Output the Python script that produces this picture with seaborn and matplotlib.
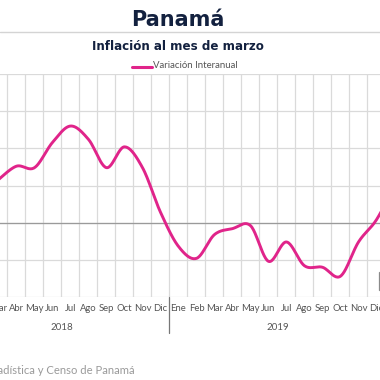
import numpy as np
import matplotlib
matplotlib.use("Agg")
import matplotlib.pyplot as plt
from matplotlib.lines import Line2D
from matplotlib.patches import Rectangle
import seaborn as sns

# monthly categories (Ene 2018 .. Ene 2020)
months = ["Ene", "Feb", "Mar", "Abr", "May", "Jun", "Jul", "Ago", "Sep", "Oct", "Nov", "Dic"] * 2 + ["Ene"]
years = [2018] * 12 + [2019] * 12 + [2020]
shown_years = [2018, 2019]  # the 2020 label sits outside the crop

# interannual inflation (%), series starts at Mar 2018
first = 2
values = [0.29, 0.38, 0.37, 0.54, 0.65, 0.56, 0.37, 0.51, 0.37, 0.07,
          -0.16, -0.24, -0.08, -0.04, -0.02, -0.26, -0.13, -0.29, -0.30, -0.36, -0.13, 0.02,
          0.25]

title = "Panamá"
subtitle = "Inflación al mes de marzo"
series_name = "Variación Interanual"
source = "Fuente: Instituto Nacional de Estadística y Censo de Panamá"

LINE = "#e0248a"
NAVY = "#13213f"
GRID = "#dadada"


def spline(x, y, n=24):
    # catmull-rom curve through the points, for a smooth line like the original
    x = np.asarray(x, float)
    y = np.asarray(y, float)
    t = np.linspace(0, 1, n, endpoint=False)
    xs, ys = [], []
    for i in range(len(x) - 1):
        a = max(i - 1, 0)
        d = min(i + 2, len(x) - 1)
        for arr, out in ((x, xs), (y, ys)):
            p0, p1, p2, p3 = arr[a], arr[i], arr[i + 1], arr[d]
            out.extend(0.5 * (2 * p1 + (p2 - p0) * t + (2 * p0 - 5 * p1 + 4 * p2 - p3) * t ** 2
                              + (3 * p1 - p0 - 3 * p2 + p3) * t ** 3))
    xs.append(x[-1])
    ys.append(y[-1])
    return np.array(xs), np.array(ys)


sns.set_style("white")
plt.rcParams["font.family"] = ["Lato", "DejaVu Sans"]

W = H = 380
fig = plt.figure(figsize=(3.8, 3.8), dpi=100)

# axes run past the left and right edges (the original is a crop)
px_left, px_right, px_top, px_bot = -46.5, 403.5, 74, 297
ax = fig.add_axes([px_left / W, 1 - px_bot / H, (px_right - px_left) / W, (px_bot - px_top) / H])

xv = np.arange(first, first + len(values))
sx, sy = spline(xv, values)
sns.lineplot(x=sx, y=sy, ax=ax, color=LINE, lw=2.1, sort=False, estimator=None)

ax.set_xlim(-0.5, len(months) - 0.5)
ax.set_ylim(-0.5, 1.0)
ax.set_xticks(np.arange(len(months)), labels=months)
ax.set_xticks(np.arange(len(months) + 1) - 0.5, minor=True)
ax.set_yticks(np.arange(-0.5, 1.01, 0.25))
ax.set_yticklabels([])
ax.grid(which="minor", axis="x", color=GRID, lw=0.9)
ax.grid(which="major", axis="y", color=GRID, lw=0.9)
ax.axhline(0, color="#9a9a9a", lw=0.9, zorder=1)
ax.tick_params(which="both", length=0)
ax.tick_params(axis="x", labelsize=6.8, labelcolor="#555555", pad=5)
for s in ax.spines.values():
    s.set_visible(False)
ax.set_xlabel("")
ax.set_ylabel("")

# year groups under the month labels
yr_arr = np.array(years)
for yr in sorted(set(years)):
    idx = np.where(yr_arr == yr)[0]
    if yr in shown_years:
        ax.text(idx.mean(), -0.135, str(yr), transform=ax.get_xaxis_transform(),
                ha="center", va="center", fontsize=7, color="#555555", clip_on=False)
    if idx[0] > 0:
        ax.plot([idx[0] - 0.5] * 2, [0, -0.162], transform=ax.get_xaxis_transform(),
                color="#777777", lw=0.9, clip_on=False)

# header
fig.text(178 / W, 1 - 20 / H, title, ha="center", va="center", fontsize=15,
         fontweight="bold", color=NAVY, family="DejaVu Sans")
fig.add_artist(Line2D([0, 1], [1 - 31.5 / H] * 2, color="#d4d4d4", lw=1))
fig.text(178 / W, 1 - 46 / H, subtitle, ha="center", va="center", fontsize=8.6,
         fontweight="bold", color=NAVY, family="DejaVu Sans")
fig.add_artist(Line2D([132 / W, 152 / W], [1 - 66.5 / H] * 2, color=LINE, lw=2.2))
fig.text(153 / W, 1 - 66 / H, series_name, ha="left", va="center", fontsize=6.9, color="#555555")

fig.text(135 / W, 1 - 370 / H, source, ha="right", va="center", fontsize=8.1, color="#9a9a9a")

# edge of a box that sits at the right border
fig.add_artist(Rectangle((378.5 / W, 1 - 290 / H), 10 / W, 18 / H, transform=fig.transFigure,
                         facecolor="white", edgecolor="#8a8a8a", lw=0.9))

fig.savefig("out.png", dpi=100)
